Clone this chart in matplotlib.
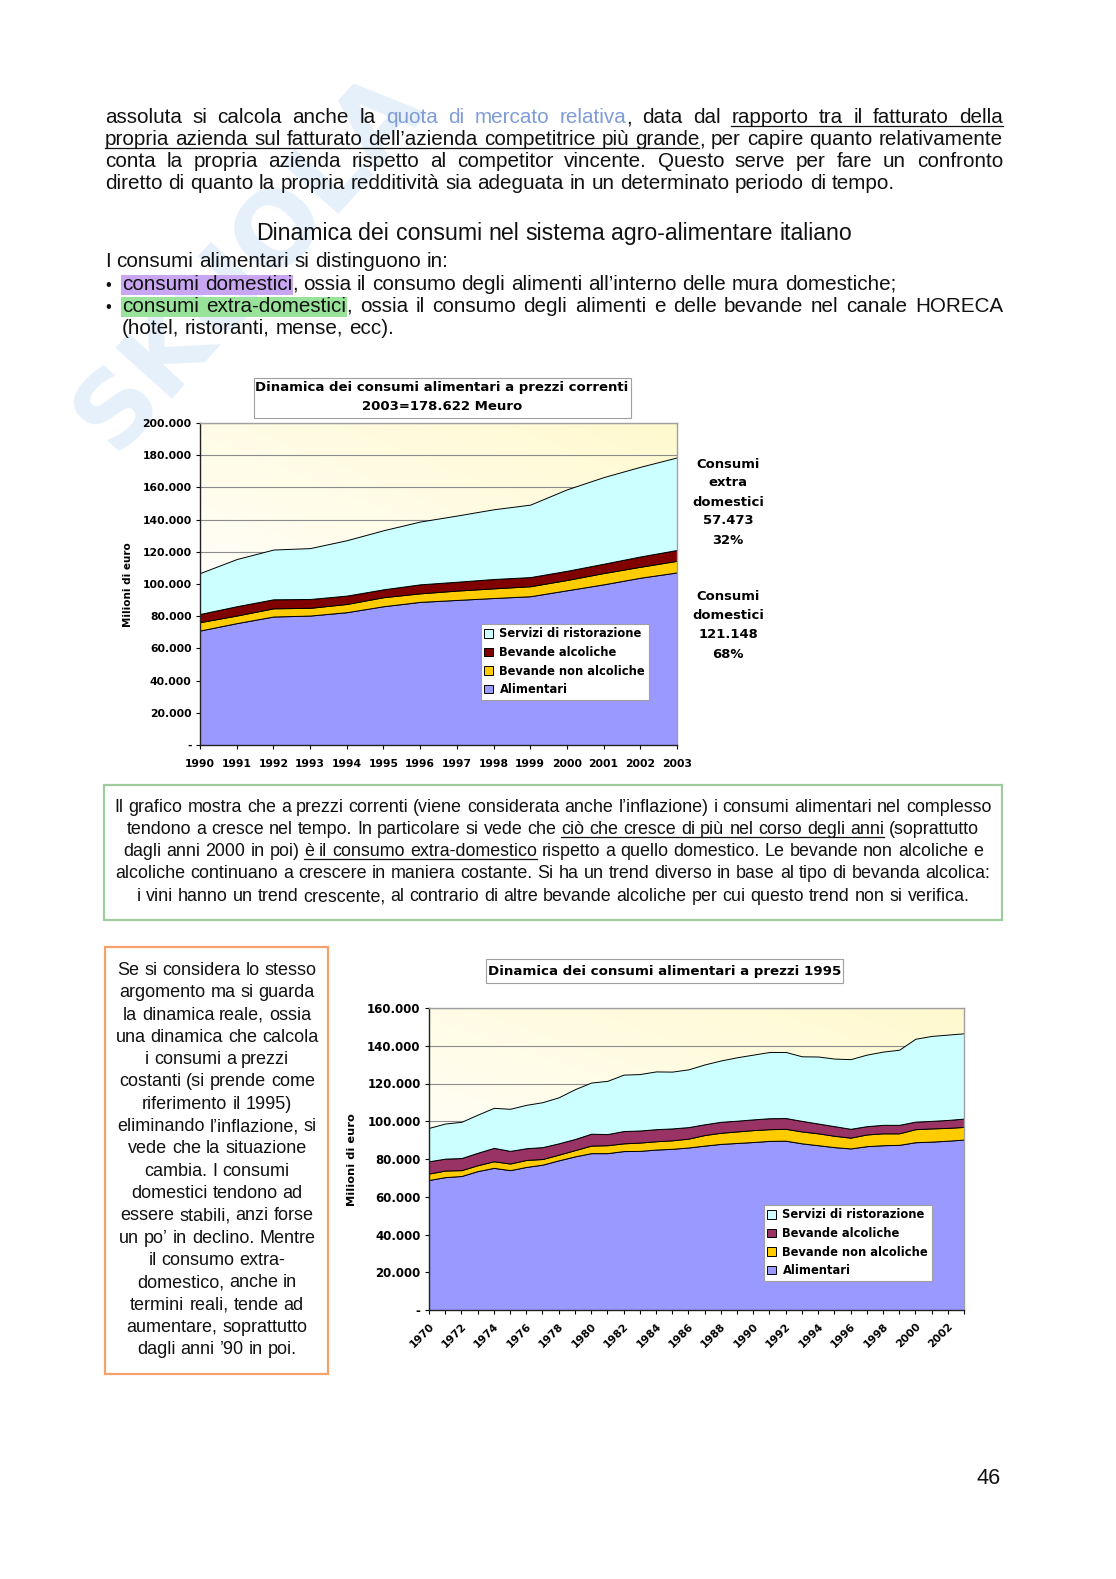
import numpy as np
import matplotlib
matplotlib.use('Agg')
import matplotlib.pyplot as plt
from matplotlib.patches import Rectangle
from matplotlib.lines import Line2D
from matplotlib.ticker import FuncFormatter

# ---------------- data ----------------
years1 = list(range(1990, 2004))
alimentari1 = [71100, 75700, 79800, 80400, 82500, 86200, 88900, 90100, 91300, 92400, 96100, 99800, 103900, 107200]
nonalc1 = [5200, 4700, 5100, 4800, 5100, 5600, 5300, 5800, 6000, 6200, 6400, 7000, 6800, 7200]
alc1 = [5100, 5800, 5600, 5500, 5200, 4900, 5600, 5500, 5800, 5700, 5700, 5800, 6400, 6748]
servizi1 = [25400, 29300, 30900, 31600, 34400, 36700, 39000, 41100, 43300, 45000, 50600, 53800, 55700, 57474]

years2 = list(range(1970, 2004))
alimentari2 = [68900, 70400, 71000, 73600, 75300, 74100, 75800, 77000, 79300, 81400, 83100, 83100, 84200, 84300,
               85000, 85400, 86100, 87100, 88000, 88500, 89000, 89600, 89700, 88300, 87300, 86300, 85600, 86800,
               87300, 87500, 88900, 89200, 89700, 90300]
nonalc2 = [3400, 3500, 3100, 3100, 3500, 3500, 3700, 3000, 3000, 3300, 4000, 4200, 4100, 4400, 4400, 4500, 4700,
           5600, 5900, 6100, 6300, 6200, 6300, 6300, 6300, 6000, 5700, 6200, 6300, 6100, 6900, 7000, 6800, 6700]
alc2 = [6500, 6300, 6400, 6600, 7100, 6700, 6200, 6300, 6000, 5900, 6300, 5900, 6500, 6400, 6400, 6300, 6100,
        5700, 5800, 5700, 5700, 5800, 5700, 5600, 5200, 5100, 4700, 4400, 4500, 4500, 4000, 4000, 4200, 4400]
servizi2 = [17700, 18600, 19200, 20200, 21200, 22300, 23000, 23800, 24400, 26400, 27100, 28200, 29900, 29900,
            30600, 30100, 30600, 31700, 32500, 33600, 34300, 35100, 35000, 34200, 35500, 35800, 36900, 37900,
            38800, 39800, 43900, 45000, 45200, 45200]

series_labels = ['Alimentari', 'Bevande non alcoliche', 'Bevande alcoliche', 'Servizi di ristorazione']
title1 = ['Dinamica dei consumi alimentari a prezzi correnti', '2003=178.622 Meuro']
title2 = 'Dinamica dei consumi alimentari a prezzi 1995'
note_extra = ['Consumi', 'extra', 'domestici', '57.473', '32%']
note_dom = ['Consumi', 'domestici', '121.148', '68%']

# ---------------- figure ----------------
W, H = 1116, 1579
fig = plt.figure(figsize=(W / 100, H / 100), dpi=100)
fig.patch.set_facecolor('white')
R = fig.canvas.get_renderer()

def FX(x):
    return x / W

def FY(y):
    return 1 - y / H

BODY = 'Liberation Sans'
CH = 'DejaVu Sans'
TXT = '#111111'

def text_w(s, size, family=BODY, weight='normal'):
    t = fig.text(0, 0, s, fontsize=size, family=family, weight=weight)
    w = t.get_window_extent(R).width
    t.remove()
    return w

def fit_size(s, target, family=BODY, weight='normal', ref=12.0):
    return ref * target / text_w(s, ref, family, weight)

# faint watermark
fig.text(FX(250), FY(262), 'SKUOLA', rotation=48, fontsize=74, weight='bold', family=CH,
         color='#e6f0fb', ha='center', va='center', zorder=-5)

STYLE_COLOR = {'n': TXT, 'b': '#7f9cd8', 'u': TXT, 'hp': TXT, 'hg': TXT}
HL = {'hp': '#c9a6f2', 'hg': '#98e29a'}

def parse(segs):
    words, cur = [], []
    for txt, st in segs:
        parts = txt.split(' ')
        for k, p in enumerate(parts):
            if k > 0 and cur:
                words.append(cur)
                cur = []
            if p:
                cur.append((p, st))
    if cur:
        words.append(cur)
    return words

def draw_line(segs, ybase, size, x0=None, x1=None, cx=None, justify=False):
    if isinstance(segs, str):
        segs = [(segs, 'n')]
    words = parse(segs)
    widths = [[text_w(p, size) for p, _ in w] for w in words]
    wt = [sum(ws) for ws in widths]
    sp = text_w('a a', size) - text_w('aa', size)
    if justify and len(words) > 1:
        gap = (x1 - x0 - sum(wt)) / (len(words) - 1)
        x = x0
    else:
        gap = sp
        total = sum(wt) + sp * (len(words) - 1)
        x = x0 if cx is None else cx - total / 2
    spans = []
    last = None
    for w, ws in zip(words, widths):
        for (p, st), pw in zip(w, ws):
            fig.text(FX(x), FY(ybase), p, fontsize=size, family=BODY, color=STYLE_COLOR[st],
                     va='baseline', ha='left', zorder=5)
            if st in ('u', 'hp', 'hg'):
                if last == st:
                    spans[-1][2] = x + pw
                else:
                    spans.append([st, x, x + pw])
                last = st
            else:
                last = None
            x += pw
        x += gap
    for st, a, b in spans:
        if st == 'u':
            fig.add_artist(Line2D([FX(a), FX(b)], [FY(ybase + 2.5), FY(ybase + 2.5)],
                                  transform=fig.transFigure, color=TXT, lw=0.9, zorder=5))
        else:
            fig.add_artist(Rectangle((FX(a - 1), FY(ybase + 5)), (b - a + 2) / W, 20 / H,
                                     transform=fig.transFigure, facecolor=HL[st], edgecolor='none', zorder=4))

# ---------------- top text ----------------
bs = fit_size('diretto di quanto la propria redditività sia adeguata in un determinato periodo di tempo.', 794)
draw_line([('assoluta si calcola anche la ', 'n'), ('quota di mercato relativa', 'b'), (', data dal ', 'n'),
           ('rapporto tra il fatturato della', 'u')], 123, bs, 105, 1003, justify=True)
draw_line([('propria azienda sul fatturato dell’azienda competitrice più grande', 'u'),
           (', per capire quanto relativamente', 'n')], 145, bs, 105, 1003, justify=True)
draw_line('conta la propria azienda rispetto al competitor vincente. Questo serve per fare un confronto',
          167, bs, 105, 1003, justify=True)
draw_line('diretto di quanto la propria redditività sia adeguata in un determinato periodo di tempo.',
          189, bs, 105)

hs = fit_size('Dinamica dei consumi nel sistema agro-alimentare italiano', 600)
draw_line('Dinamica dei consumi nel sistema agro-alimentare italiano', 240, hs, cx=554)
draw_line('I consumi alimentari si distinguono in:', 267, bs, 105)
fig.text(FX(105), FY(290), '•', fontsize=bs * 0.8, family=BODY, color=TXT, va='baseline')
fig.text(FX(105), FY(312), '•', fontsize=bs * 0.8, family=BODY, color=TXT, va='baseline')
draw_line([('consumi domestici', 'hp'), (', ossia il consumo degli alimenti all’interno delle mura domestiche;', 'n')],
          290, bs, 122)
draw_line([('consumi extra-domestici', 'hg'),
           (', ossia il consumo degli alimenti e delle bevande nel canale HORECA', 'n')],
          312, bs, 122, 1003, justify=True)
draw_line('(hotel, ristoranti, mense, ecc).', 334, bs, 122)

# ---------------- helpers for charts ----------------
C_SERV = '#ccffff'
C_NONALC = '#ffcc00'
C_ALIM = '#9999ff'

def grad_bg(ax, x0, x1, y0, y1):
    xs = np.linspace(0, 1, 200)
    ys = np.linspace(0, 1, 200)
    X, Y = np.meshgrid(xs, ys)
    t = np.clip(0.45 * X + 0.75 * Y - 0.25, 0, 1)
    c0 = np.array([1.0, 1.0, 1.0])
    c1 = np.array([1.0, 0.975, 0.80])
    img = c0 + (c1 - c0) * t[..., None]
    ax.imshow(img, extent=[x0, x1, y0, y1], origin='lower', aspect='auto', zorder=0,
              interpolation='bilinear')

def fmt(v, pos=None):
    if abs(v) < 1:
        return '-'
    return f'{int(round(v)):,}'.replace(',', '.')

def fig_box(x0, y0, x1, y1, ec='#a0a0a0', lw=0.8, z=1):
    fig.add_artist(Rectangle((FX(x0), FY(y1)), (x1 - x0) / W, (y1 - y0) / H, transform=fig.transFigure,
                             facecolor='white', edgecolor=ec, lw=lw, zorder=z))

def style_axes(ax, ymax, tick_size):
    ax.set_ylim(0, ymax)
    ax.yaxis.set_major_formatter(FuncFormatter(fmt))
    ax.set_axisbelow(True)
    ax.yaxis.grid(True, color='#8c8c8c', lw=0.8)
    for s in ('top', 'right'):
        ax.spines[s].set_color('#a0a0a0')
        ax.spines[s].set_linewidth(1.0)
    for s in ('left', 'bottom'):
        ax.spines[s].set_color('#222222')
        ax.spines[s].set_linewidth(1.0)
    ax.tick_params(axis='y', direction='out', length=3, width=0.8, pad=3, labelsize=tick_size)
    for lab in ax.get_yticklabels():
        lab.set_fontweight('bold')
        lab.set_family(CH)

LEG_KW = dict(borderaxespad=0, frameon=True, fancybox=False, edgecolor='#a0a0a0', framealpha=1,
              borderpad=0.3, labelspacing=0.48, handlelength=0.75, handleheight=0.75, handletextpad=0.55)

# ---------------- chart 1 ----------------
ax1 = fig.add_axes([FX(200), FY(745), (677 - 200) / W, (745 - 423) / H])
grad_bg(ax1, years1[0], years1[-1], 0, 200000)
polys1 = ax1.stackplot(years1, alimentari1, nonalc1, alc1, servizi1,
                       colors=[C_ALIM, C_NONALC, '#800000', C_SERV],
                       edgecolor='black', linewidth=0.7, labels=series_labels, zorder=2)
ax1.set_xlim(years1[0], years1[-1])
ax1.set_yticks(range(0, 200001, 20000))
ts1 = fit_size('200.000', 49, CH, 'bold')
style_axes(ax1, 200000, ts1)
ax1.set_xticks(years1)
ax1.set_xticklabels([str(y) for y in years1])
ax1.tick_params(axis='x', direction='out', length=3, width=0.8, pad=7, labelsize=fit_size('1990', 30, CH, 'bold'))
for lab in ax1.get_xticklabels():
    lab.set_fontweight('bold')
    lab.set_family(CH)

fig.text(FX(128), FY(585), 'Milioni di euro', rotation=90, ha='center', va='center',
         fontsize=fit_size('Milioni di euro', 84, CH, 'bold'), weight='bold', family=CH, color='black')

fig_box(254, 378, 631, 418)
tt1 = fit_size(title1[0], 371, CH, 'bold')
fig.text(FX(442), FY(388), title1[0], ha='center', va='center', fontsize=tt1, weight='bold', family=CH, zorder=3)
fig.text(FX(442), FY(407), title1[1], ha='center', va='center', fontsize=tt1, weight='bold', family=CH, zorder=3)

ls = fit_size('Servizi di ristorazione', 142, CH, 'bold')
h1, l1 = ax1.get_legend_handles_labels()
leg1 = ax1.legend(h1[::-1], l1[::-1], loc='upper left', bbox_to_anchor=(FX(481), FY(624)),
                  bbox_transform=fig.transFigure, prop={'family': CH, 'weight': 'bold', 'size': ls}, **LEG_KW)
leg1.get_frame().set_linewidth(0.8)

ns = fit_size('domestici', 72, CH, 'bold')
for i, s in enumerate(note_extra):
    fig.text(FX(728), FY(464 + 19 * i), s, ha='center', va='center', fontsize=ns, weight='bold', family=CH)
for i, s in enumerate(note_dom):
    fig.text(FX(728), FY(597 + 19 * i), s, ha='center', va='center', fontsize=ns, weight='bold', family=CH)

# ---------------- green box ----------------
fig_box(104, 785, 1002, 920, ec='#9fcb9f', lw=1.6, z=0)
g1 = 'Il grafico mostra che a prezzi correnti (viene considerata anche l’inflazione) i consumi alimentari nel complesso'
gs = fit_size(g1, 875)
draw_line(g1, 812, gs, cx=553)
draw_line([('tendono a cresce nel tempo. In particolare si vede che ', 'n'),
           ('ciò che cresce di più nel corso degli anni', 'u'), (' (soprattutto', 'n')], 834, gs, cx=553)
draw_line([('dagli anni 2000 in poi) ', 'n'), ('è il consumo extra-domestico', 'u'),
           (' rispetto a quello domestico. Le bevande non alcoliche e', 'n')], 856, gs, cx=553)
draw_line('alcoliche continuano a crescere in maniera costante. Si ha un trend diverso in base al tipo di bevanda alcolica:',
          878, gs, cx=553)
draw_line('i vini hanno un trend crescente, al contrario di altre bevande alcoliche per cui questo trend non si verifica.',
          901, gs, cx=553)

# ---------------- orange box ----------------
fig_box(105, 947, 328, 1374, ec='#f2a26a', lw=1.6, z=0)
orange_lines = ['Se si considera lo stesso', 'argomento ma si guarda', 'la dinamica reale, ossia',
                'una dinamica che calcola', 'i consumi a prezzi', 'costanti (si prende come',
                'riferimento il 1995)', 'eliminando l’inflazione, si', 'vede che la situazione',
                'cambia. I consumi', 'domestici tendono ad', 'essere stabili, anzi forse',
                'un po’ in declino. Mentre', 'il consumo extra-', 'domestico, anche in',
                'termini reali, tende ad', 'aumentare, soprattutto', 'dagli anni ’90 in poi.']
osz = fit_size('una dinamica che calcola', 203)
for i, s in enumerate(orange_lines):
    draw_line(s, 975 + 22.3 * i, osz, cx=217)

# ---------------- chart 2 ----------------
ax2 = fig.add_axes([FX(429), FY(1310), (964 - 429) / W, (1310 - 1008) / H])
grad_bg(ax2, years2[0], years2[-1], 0, 160000)
polys2 = ax2.stackplot(years2, alimentari2, nonalc2, alc2, servizi2,
                       colors=[C_ALIM, C_NONALC, '#993366', C_SERV],
                       edgecolor='black', linewidth=0.7, labels=series_labels, zorder=2)
ax2.set_xlim(years2[0], years2[-1])
ax2.set_yticks(range(0, 160001, 20000))
style_axes(ax2, 160000, fit_size('160.000', 53, CH, 'bold'))
ax2.set_xticks(years2)
ax2.set_xticklabels([str(y) if y % 2 == 0 else '' for y in years2], rotation=45, ha='right', va='top',
                    rotation_mode='anchor')
ax2.tick_params(axis='x', direction='out', length=3, width=0.8, pad=5,
                labelsize=fit_size('1970', 30, CH, 'bold'))
for lab in ax2.get_xticklabels():
    lab.set_fontweight('bold')
    lab.set_family(CH)

fig.text(FX(352), FY(1160), 'Milioni di euro', rotation=90, ha='center', va='center',
         fontsize=fit_size('Milioni di euro', 92, CH, 'bold'), weight='bold', family=CH, color='black')

fig_box(486, 959, 843, 983)
fig.text(FX(665), FY(971), title2, ha='center', va='center', fontsize=fit_size(title2, 350, CH, 'bold'),
         weight='bold', family=CH, zorder=3)

h2, l2 = ax2.get_legend_handles_labels()
leg2 = ax2.legend(h2[::-1], l2[::-1], loc='upper left', bbox_to_anchor=(FX(764), FY(1205)),
                  bbox_transform=fig.transFigure, prop={'family': CH, 'weight': 'bold', 'size': ls}, **LEG_KW)
leg2.get_frame().set_linewidth(0.8)

# page number
fig.text(FX(1001), FY(1484), '46', ha='right', va='baseline', fontsize=bs * 1.05, family=BODY, color=TXT)

fig.savefig('out.png', dpi=100, facecolor='white')
